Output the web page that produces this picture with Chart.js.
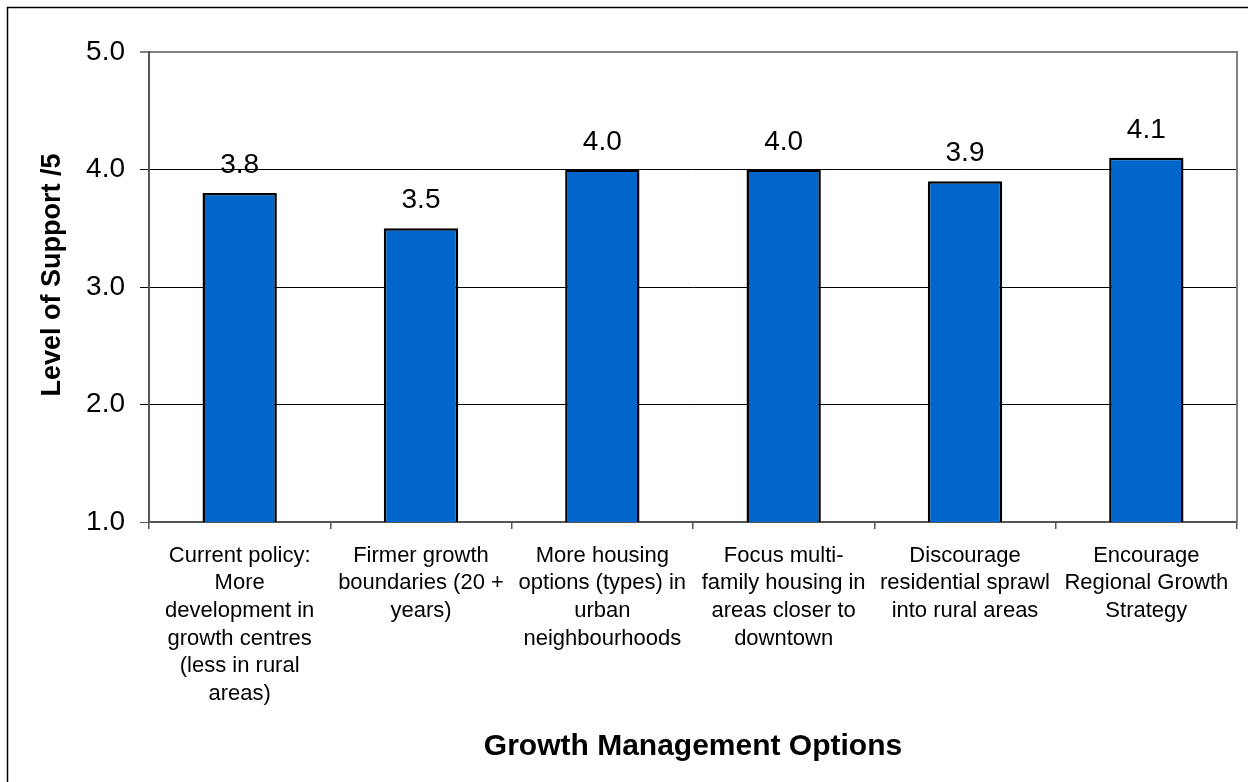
<!DOCTYPE html>
<html>
<head>
<meta charset="utf-8">
<script src="https://cdn.jsdelivr.net/npm/chart.js@4/dist/chart.umd.min.js"></script>
<style>
html,body{margin:0;padding:0;background:#fff;}
canvas{display:block;}
</style>
</head>
<body>
<canvas id="c" width="1248" height="782"></canvas>
<script>
const categories = [
  ["Current policy:", "More", "development in", "growth centres", "(less in rural", "areas)"],
  ["Firmer growth", "boundaries (20 +", "years)"],
  ["More housing", "options (types) in", "urban", "neighbourhoods"],
  ["Focus multi-", "family housing in", "areas closer to", "downtown"],
  ["Discourage", "residential sprawl", "into rural areas"],
  ["Encourage", "Regional Growth", "Strategy"]
];
const supportValues = [3.8, 3.5, 4.0, 4.0, 3.9, 4.1];
const yTicks = [1, 2, 3, 4, 5];
const yTitle = "Level of Support /5";
const xTitle = "Growth Management Options";

const FONT = "'Liberation Sans', Arial, Helvetica, sans-serif";
Chart.defaults.color = '#000';
Chart.defaults.font.family = FONT;

const framePlugin = {
  id: 'frame',
  beforeDraw(chart) {
    const ctx = chart.ctx;
    ctx.save();
    ctx.fillStyle = '#fff';
    ctx.fillRect(0, 0, chart.width, chart.height);
    ctx.strokeStyle = '#000';
    ctx.lineWidth = 1.5;
    ctx.strokeRect(7.5, 7.5, chart.width + 10, chart.height + 10);
    ctx.restore();
  },
  afterDraw(chart) {
    const ctx = chart.ctx;
    const a = chart.chartArea;
    ctx.save();
    ctx.strokeStyle = '#808080';
    ctx.lineWidth = 2;
    ctx.beginPath();
    ctx.moveTo(a.right, a.top - 1);
    ctx.lineTo(a.right, a.bottom);
    ctx.stroke();
    // y axis title
    ctx.translate(53, (a.top + a.bottom) / 2 - 12);
    ctx.rotate(-Math.PI / 2);
    ctx.font = 'bold 27px ' + FONT;
    ctx.fillStyle = '#000';
    ctx.textAlign = 'center';
    ctx.textBaseline = 'middle';
    ctx.fillText(yTitle, 0, 0);
    ctx.restore();
  }
};

const valueLabels = {
  id: 'valueLabels',
  afterDatasetsDraw(chart) {
    const ctx = chart.ctx;
    const meta = chart.getDatasetMeta(0);
    ctx.save();
    ctx.font = '28px ' + FONT;
    ctx.fillStyle = '#000';
    ctx.textAlign = 'center';
    ctx.textBaseline = 'alphabetic';
    meta.data.forEach((bar, i) => {
      ctx.fillText(supportValues[i].toFixed(1), bar.x, bar.y - 20);
    });
    ctx.restore();
  }
};

new Chart(document.getElementById('c'), {
  type: 'bar',
  data: {
    labels: categories,
    datasets: [{
      data: supportValues,
      backgroundColor: '#0066CC',
      borderColor: '#000',
      borderWidth: 2.5,
      borderSkipped: false,
      categoryPercentage: 1,
      barPercentage: 0.41
    }]
  },
  options: {
    responsive: false,
    animation: false,
    devicePixelRatio: 1,
    layout: { padding: { top: 52, right: 11, left: 0, bottom: 0 } },
    plugins: { legend: { display: false }, tooltip: { enabled: false } },
    scales: {
      x: {
        grid: {
          display: true,
          drawOnChartArea: false,
          drawTicks: true,
          tickLength: 7,
          color: '#555',
          lineWidth: 1.5
        },
        border: { display: true, color: '#555', width: 2 },
        ticks: {
          autoSkip: false,
          maxRotation: 0,
          minRotation: 0,
          padding: 13,
          font: { size: 22, lineHeight: 1.255 },
          color: '#000'
        },
        title: {
          display: true,
          text: xTitle,
          font: { size: 30, weight: 'bold' },
          padding: { top: 0, bottom: 17 },
          color: '#000'
        },
        afterFit(scale) { scale.height = 260; }
      },
      y: {
        min: 1,
        max: 5,
        afterBuildTicks(scale) { scale.ticks = yTicks.map(v => ({ value: v })); },
        grid: {
          color: ctx => (ctx.tick && ctx.tick.value === 5) ? '#808080' : (ctx.tick && ctx.tick.value === 1 ? '#555' : '#000'),
          lineWidth: ctx => (ctx.tick && ctx.tick.value === 5) ? 2 : 1,
          drawTicks: true,
          tickLength: 9
        },
        border: { display: true, color: '#555', width: 2 },
        ticks: {
          padding: 15,
          font: { size: 28 },
          color: '#000',
          callback: v => Number(v).toFixed(1)
        },
        title: { display: false, text: yTitle },
        afterFit(scale) { scale.width = 149; }
      }
    }
  },
  plugins: [framePlugin, valueLabels]
});
</script>
</body>
</html>
